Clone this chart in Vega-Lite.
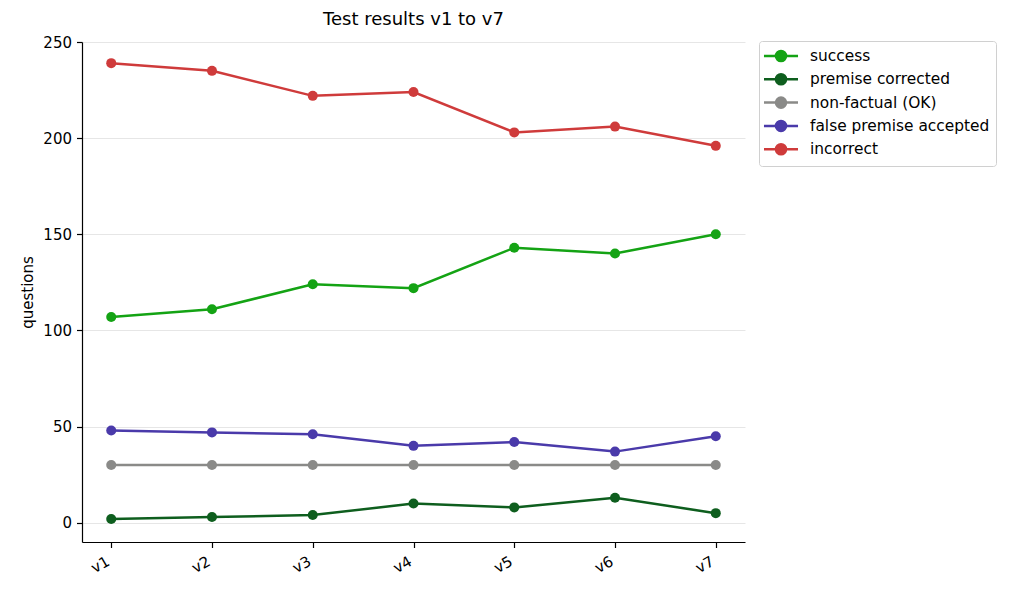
{
  "$schema": "https://vega.github.io/schema/vega-lite/v6.json",
  "width": 663,
  "height": 500,
  "autosize": "none",
  "padding": {"left": 82, "top": 42, "right": 279, "bottom": 50},
  "background": "white",
  "title": {"text": "Test results v1 to v7", "font": "DejaVu Sans", "fontSize": 18, "fontWeight": "normal", "color": "black", "offset": 6},
  "config": {
    "font": "DejaVu Sans",
    "view": {"stroke": null},
    "axis": {"labelFont": "DejaVu Sans", "labelFontSize": 15, "labelColor": "black", "titleFont": "DejaVu Sans", "titleFontSize": 15, "titleFontWeight": "normal", "titleColor": "black", "domainColor": "black", "domainWidth": 1.2, "tickColor": "black", "tickSize": 5.5, "tickWidth": 1.2}
  },
  "data": {"values": [
    {"series": "success", "version": "v1", "questions": 107},
    {"series": "success", "version": "v2", "questions": 111},
    {"series": "success", "version": "v3", "questions": 124},
    {"series": "success", "version": "v4", "questions": 122},
    {"series": "success", "version": "v5", "questions": 143},
    {"series": "success", "version": "v6", "questions": 140},
    {"series": "success", "version": "v7", "questions": 150},
    {"series": "premise corrected", "version": "v1", "questions": 2},
    {"series": "premise corrected", "version": "v2", "questions": 3},
    {"series": "premise corrected", "version": "v3", "questions": 4},
    {"series": "premise corrected", "version": "v4", "questions": 10},
    {"series": "premise corrected", "version": "v5", "questions": 8},
    {"series": "premise corrected", "version": "v6", "questions": 13},
    {"series": "premise corrected", "version": "v7", "questions": 5},
    {"series": "non-factual (OK)", "version": "v1", "questions": 30},
    {"series": "non-factual (OK)", "version": "v2", "questions": 30},
    {"series": "non-factual (OK)", "version": "v3", "questions": 30},
    {"series": "non-factual (OK)", "version": "v4", "questions": 30},
    {"series": "non-factual (OK)", "version": "v5", "questions": 30},
    {"series": "non-factual (OK)", "version": "v6", "questions": 30},
    {"series": "non-factual (OK)", "version": "v7", "questions": 30},
    {"series": "false premise accepted", "version": "v1", "questions": 48},
    {"series": "false premise accepted", "version": "v2", "questions": 47},
    {"series": "false premise accepted", "version": "v3", "questions": 46},
    {"series": "false premise accepted", "version": "v4", "questions": 40},
    {"series": "false premise accepted", "version": "v5", "questions": 42},
    {"series": "false premise accepted", "version": "v6", "questions": 37},
    {"series": "false premise accepted", "version": "v7", "questions": 45},
    {"series": "incorrect", "version": "v1", "questions": 239},
    {"series": "incorrect", "version": "v2", "questions": 235},
    {"series": "incorrect", "version": "v3", "questions": 222},
    {"series": "incorrect", "version": "v4", "questions": 224},
    {"series": "incorrect", "version": "v5", "questions": 203},
    {"series": "incorrect", "version": "v6", "questions": 206},
    {"series": "incorrect", "version": "v7", "questions": 196}
  ]},
  "encoding": {
    "x": {"field": "version", "type": "ordinal", "scale": {"type": "point", "padding": 0.29},
      "axis": {"title": null, "labelAngle": -30, "labelAlign": "right", "labelBaseline": "top", "grid": false, "labelPadding": 6, "labelOffset": -7}},
    "y": {"field": "questions", "type": "quantitative", "scale": {"domain": [-10, 250], "nice": false, "zero": false},
      "axis": {"title": "questions", "values": [0, 50, 100, 150, 200, 250], "grid": true, "gridColor": "#e6e6e6", "gridWidth": 1, "labelPadding": 5, "titlePadding": 7}},
    "color": {"field": "series", "type": "nominal",
      "scale": {"domain": ["success", "premise corrected", "non-factual (OK)", "false premise accepted", "incorrect"],
                "range": ["#14a314", "#0e5e1e", "#8a8a88", "#4a3aaa", "#cf3b3b"]},
      "legend": {"title": null, "orient": "none", "legendX": 677, "legendY": -1,
        "symbolType": "M-2.27,0L2.27,0M-0.67,0A0.67,0.67,0,1,1,0.67,0A0.67,0.67,0,1,1,-0.67,0",
        "symbolSize": 225, "symbolStrokeWidth": 2.5, "symbolOpacity": 1, "symbolOffset": 7,
        "labelFont": "DejaVu Sans", "labelFontSize": 15.4, "labelColor": "black", "labelOffset": 20,
        "rowPadding": 1.3, "padding": 6, "strokeColor": "#d0d0d0", "fillColor": "white", "cornerRadius": 3,
        "labelLimit": 300}}
  },
  "layer": [
    {"mark": {"type": "line", "strokeWidth": 2.5}, "encoding": {"detail": {"field": "series"}}},
    {"mark": {"type": "point", "filled": true, "opacity": 1, "size": 100}}
  ]
}
